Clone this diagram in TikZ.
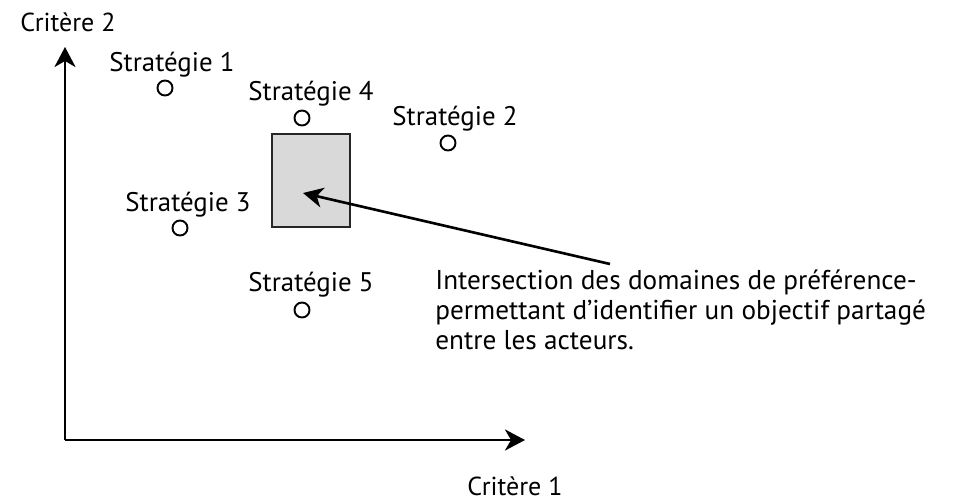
\documentclass[tikz,border=0pt]{standalone}
\usepackage{fontspec}
\setmainfont{PT Sans}
\usetikzlibrary{arrows.meta, positioning}

\begin{document}
\begin{tikzpicture}[x=0.02cm, y=-0.02cm,
		axis/.style={line width=1.6pt, -{Stealth[length=4mm, width=4.2mm, inset=1.2mm]}},
		label/.style={font=\fontsize{15.3}{18}\selectfont, inner sep=0pt}
	]
	\tikzstyle{StratNode} = [ %small open circles
		circle,
		draw=black,
		line width=1.1pt,
		minimum size=0.3cm,
		inner sep=0pt
	]
	\tikzstyle{BoxNode} = [
		draw=black!85,
		line width=1.3pt,
		fill=gray!30,
		minimum width=1.56cm,
		minimum height=1.86cm,
		inner sep=0pt
	]
	\useasboundingbox (0,0) rectangle (959,501);

	% axes
	\coordinate (O) at (65,440);
	\coordinate (ytop) at (65,47);
	\coordinate (xend) at (525,440);
	\draw[axis] (O) -- (ytop);
	\draw[axis] (O) -- (xend);
	\node[label, font=\fontsize{14.8}{18}\selectfont] (c2) at (68,22) {Critère 2};
	\node[label, font=\fontsize{14.8}{18}\selectfont] (c1) at (515,486) {Critère 1};

	% strategies
	\node (s1) [StratNode] at (165,88) {};
	\node (s2) [StratNode] at (448,143) {};
	\node (s3) [StratNode] at (180,228) {};
	\node (s4) [StratNode] at (302,118) {};
	\node (s5) [StratNode] at (302,310) {};
	\node[label] (l1) at (172,65) {Stratégie 1};
	\node[label] (l2) at (455,119) {Stratégie 2};
	\node[label] (l3) at (188,205) {Stratégie 3};
	\node[label] (l4) at (311,94) {Stratégie 4};
	\node[label] (l5) at (311,285) {Stratégie 5};

	% intersection
	\node (box) [BoxNode] at (311,180.5) {};
	\coordinate (tip) at (303,193);
	\node[label, font=\fontsize{15.5}{17}\selectfont, anchor=north west, align=left] (txt) at (435,270)
		{Intersection des domaines de préférence-\\
		permettant d'identifier un objectif partagé\\
		entre les acteurs.};
	\coordinate (tail) at (610,264);
	\draw[line width=1.5pt, -{Stealth[length=4mm, width=4mm, inset=1.2mm]}] (tail) -- (tip);
\end{tikzpicture}
\end{document}
